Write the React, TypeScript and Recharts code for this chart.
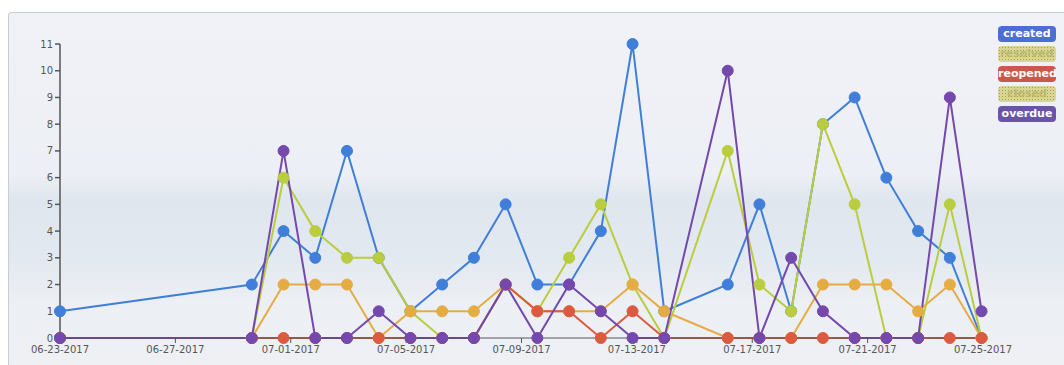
import { LineChart, Line, XAxis, YAxis } from 'recharts';

// x position of each point, in days after 06-23-2017
const pointDays = [0, 6.65, 7.75, 8.85, 9.95, 11.05, 12.15, 13.25, 14.35, 15.45, 16.55, 17.65,
  18.75, 19.85, 20.95, 23.15, 24.25, 25.35, 26.45, 27.55, 28.65, 29.75, 30.85, 31.95];

const created = [1, 2, 4, 3, 7, 3, 1, 2, 3, 5, 2, 2, 4, 11, 1, 2, 5, 1, 8, 9, 6, 4, 3, 0];
const resolved = [0, 0, 6, 4, 3, 3, 1, 0, 0, 2, 1, 3, 5, 2, 0, 7, 2, 1, 8, 5, 0, 0, 5, 0];
const reopened = [0, 0, 0, 0, 0, 0, 0, 0, 0, 2, 1, 1, 0, 1, 0, 0, 0, 0, 0, 0, 0, 0, 0, 0];
const closed = [0, 0, 2, 2, 2, 0, 1, 1, 1, 2, 1, 1, 1, 2, 1, 0, 0, 0, 2, 2, 2, 1, 2, 0];
const overdue = [0, 0, 7, 0, 0, 1, 0, 0, 0, 2, 0, 2, 1, 0, 0, 10, 0, 3, 1, 0, 0, 0, 9, 1];

const tickDays = [0, 4, 8, 12, 16, 20, 24, 28, 32];
const tickLabels = ['06-23-2017', '06-27-2017', '07-01-2017', '07-05-2017', '07-09-2017',
  '07-13-2017', '07-17-2017', '07-21-2017', '07-25-2017'];
const yTicks = [0, 1, 2, 3, 4, 5, 6, 7, 8, 9, 10, 11];

const series = [
  { key: 'created', color: '#3f7fd9', legend: '#4a6fd1', textured: false },
  { key: 'resolved', color: '#b9cd3e', legend: '#d8d596', textured: true },
  { key: 'closed', color: '#e6ac44', legend: '#d8d596', textured: true },
  { key: 'reopened', color: '#dc5a3f', legend: '#c95a4b', textured: false },
  { key: 'overdue', color: '#7448ad', legend: '#6a54a8', textured: false },
];
const legendOrder = ['created', 'resolved', 'reopened', 'closed', 'overdue'];

const data = pointDays.map((day, i) => ({
  day,
  created: created[i],
  resolved: resolved[i],
  reopened: reopened[i],
  closed: closed[i],
  overdue: overdue[i],
}));

const font = '"DejaVu Sans", Verdana, sans-serif';

export default function App() {
  return (
    <div style={{ position: 'absolute', left: 0, top: 0, width: 1064, height: 365, background: '#fff', overflow: 'hidden' }}>
      <div
        style={{
          position: 'absolute', left: 8, top: 12, width: 1060, height: 360,
          border: '1px solid #c9ccd2', borderRadius: 3,
          background: 'linear-gradient(to bottom, #f1f2f7 0%, #eceff5 45%, #dfe6ee 52%, #e3e9f0 68%, #eceff4 80%, #eef0f4 100%)',
        }}
      />
      <div style={{ position: 'absolute', left: 0, top: 0 }}>
        <LineChart width={1064} height={365} data={data} margin={{ top: 44, right: 81, bottom: 0, left: 0 }}>
          <XAxis
            dataKey="day"
            type="number"
            domain={[0, 32]}
            ticks={tickDays}
            tickFormatter={(v: number) => tickLabels[tickDays.indexOf(v)] ?? ''}
            height={27}
            tickSize={5}
            tickMargin={3}
            stroke="#555"
            tick={{ fontSize: 10, fill: '#555', fontFamily: font }}
            interval={0}
          />
          <YAxis
            type="number"
            domain={[0, 11]}
            ticks={yTicks}
            width={60}
            tickSize={5}
            tickMargin={2}
            stroke="#555"
            strokeWidth={1.5}
            tick={{ fontSize: 10, fill: '#555', fontFamily: font }}
            interval={0}
          />
          {series.map((s) => (
            <Line
              key={s.key}
              dataKey={s.key}
              type="linear"
              stroke={s.color}
              strokeWidth={2}
              dot={{ r: 5.5, fill: s.color, stroke: s.color, strokeWidth: 1 }}
              activeDot={false}
              isAnimationActive={false}
            />
          ))}
        </LineChart>
      </div>
      <div style={{ position: 'absolute', left: 998, top: 26, display: 'flex', flexDirection: 'column', gap: 4 }}>
        {legendOrder.map((k) => {
          const s = series.find((x) => x.key === k)!;
          return (
            <div
              key={k}
              style={{
                width: 58, height: 16, borderRadius: 4, boxSizing: 'border-box',
                background: s.legend,
                backgroundImage: s.textured ? 'radial-gradient(#a9a24c 0.8px, transparent 1px)' : undefined,
                backgroundSize: s.textured ? '3px 3px' : undefined,
                color: s.textured ? '#bdb76a' : '#fff',
                fontFamily: font, fontSize: 11, fontWeight: 'bold', lineHeight: '16px',
                textAlign: 'center', whiteSpace: 'nowrap', overflow: 'hidden',
              }}
            >
              {k}
            </div>
          );
        })}
      </div>
    </div>
  );
}
